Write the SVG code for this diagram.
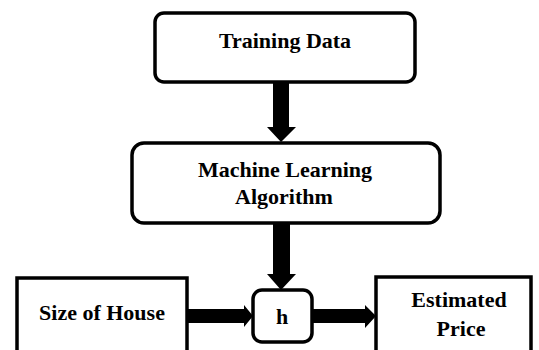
<svg xmlns="http://www.w3.org/2000/svg" width="539" height="350" viewBox="0 0 539 350">
<style>
.box{fill:#fff;stroke:#000;stroke-width:3.5}
.t{font-family:"Liberation Serif","Times New Roman",serif;font-weight:bold;font-size:22px;fill:#000;text-anchor:middle}
.arr{fill:#000;stroke:none}
</style>
<rect width="539" height="350" fill="#fff"/>
<g id="training">
<rect class="box" x="155" y="13" width="260" height="69" rx="9"/>
<text class="t" x="285" y="48">Training Data</text>
</g>
<g id="ml">
<rect class="box" x="132" y="143" width="308" height="80" rx="12"/>
<text class="t" x="285" y="177">Machine Learning</text>
<text class="t" x="284" y="204">Algorithm</text>
</g>
<g id="size">
<rect class="box" x="17" y="278" width="170" height="90"/>
<text class="t" x="102" y="320">Size of House</text>
</g>
<g id="h">
<rect class="box" x="253" y="290" width="59" height="52" rx="9"/>
<text class="t" x="282" y="324">h</text>
</g>
<g id="price">
<rect class="box" x="376" y="277" width="155" height="90"/>
<text class="t" x="459" y="307">Estimated</text>
<text class="t" x="461" y="336">Price</text>
</g>
<g id="connectors">
<polygon class="arr" points="273,83 289,83 289,127 296,127 281,142 267,127 273,127"/>
<polygon class="arr" points="273,223 290,223 290,274 296,274 281,290 267,274 273,274"/>
<polygon class="arr" points="187,309 244,309 244,305 253,316 244,327 244,323 187,323"/>
<polygon class="arr" points="312,309 365,309 365,305 376,316 365,328 365,323 312,323"/>
</g>
</svg>
